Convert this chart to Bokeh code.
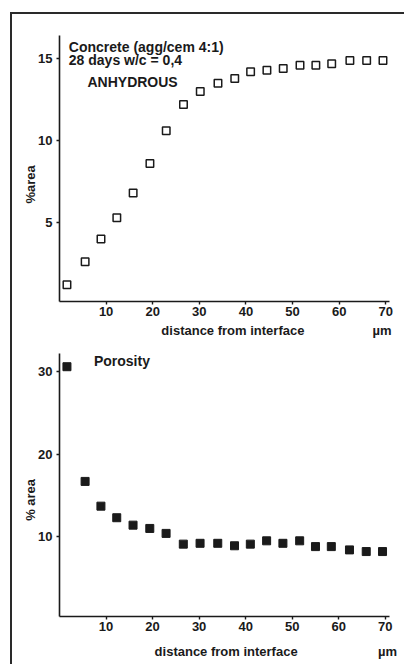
import math
from bokeh.plotting import figure
from bokeh.models import Range1d, FixedTicker, Label, ColumnDataSource, LinearAxis
from bokeh.layouts import column
from bokeh.embed import file_html
from bokeh.resources import INLINE

# ---- data ----
distance_um = [1.6, 5.5, 8.9, 12.3, 15.8, 19.4, 22.9, 26.6, 30.2, 34.0,
               37.6, 41.0, 44.5, 48.0, 51.6, 55.0, 58.4, 62.3, 65.9, 69.4]
anhydrous_pct = [1.2, 2.6, 4.0, 5.3, 6.8, 8.6, 10.6, 12.2, 13.0, 13.5,
                 13.8, 14.2, 14.3, 14.4, 14.6, 14.6, 14.7, 14.9, 14.9, 14.9]
porosity_pct = [30.6, 16.7, 13.7, 12.3, 11.4, 11.0, 10.4, 9.1, 9.2, 9.2,
                8.9, 9.1, 9.5, 9.2, 9.5, 8.8, 8.8, 8.4, 8.2, 8.2]
x_ticks = [10, 20, 30, 40, 50, 60, 70]
top_y_ticks = [5, 10, 15]
bottom_y_ticks = [10, 20, 30]
x_title = "distance from interface"
x_unit = "\u00b5m"

FONT = "Liberation Sans"
INK = "#1a1a1a"


def style_axis(ax, size="13px"):
    ax.axis_line_color = INK
    ax.axis_line_width = 1.6
    ax.major_tick_line_color = INK
    ax.major_tick_line_width = 1.4
    ax.major_tick_in = 0
    ax.major_tick_out = 3
    ax.minor_tick_line_color = None
    ax.major_label_text_font = FONT
    ax.major_label_text_font_style = "bold"
    ax.major_label_text_font_size = size
    ax.major_label_text_color = INK


def title_axis(p, side, ticks, texts, standoff, orientation="horizontal"):
    ax = LinearAxis(ticker=FixedTicker(ticks=ticks),
                    major_label_overrides=dict(zip(ticks, texts)))
    style_axis(ax)
    ax.axis_line_color = None
    ax.major_tick_line_color = None
    ax.major_tick_out = 0
    ax.major_label_standoff = standoff
    ax.major_label_orientation = orientation
    p.add_layout(ax, side)


def base_fig(h, w, xr, yr, left, right, top, bottom, yticks):
    p = figure(width=w, height=h, x_range=xr, y_range=yr,
               output_backend="svg", toolbar_location=None,
               min_border_left=left, min_border_right=right,
               min_border_top=top, min_border_bottom=bottom)
    p.outline_line_color = None
    p.grid.visible = False
    p.background_fill_color = "white"
    p.border_fill_color = "white"
    style_axis(p.xaxis[0])
    style_axis(p.yaxis[0])
    p.xaxis.ticker = FixedTicker(ticks=x_ticks)
    p.yaxis.ticker = FixedTicker(ticks=yticks)
    p.xaxis.major_label_standoff = 2
    p.yaxis.major_label_standoff = 4
    p.yaxis.major_label_orientation = "horizontal"
    return p


def lab(p, text, x, y, size="14px", baseline="middle"):
    p.add_layout(Label(x=x, y=y, text=text, text_font=FONT,
                       text_font_style="bold", text_font_size=size,
                       text_color=INK, text_align="left",
                       text_baseline=baseline))


src = ColumnDataSource(dict(x=distance_um, a=anhydrous_pct, p=porosity_pct))

# ---- top panel: anhydrous ----
p1 = base_fig(326, 392, Range1d(0, 70.8), Range1d(0.18, 16.42),
              46, 15, 21, 38, top_y_ticks)
p1.scatter("x", "a", source=src, marker="square", size=7.5,
           fill_color="white", line_color=INK, line_width=1.5)
lab(p1, "Concrete (agg/cem 4:1)", 2.0, 15.7, baseline="alphabetic")
lab(p1, "28 days w/c = 0,4", 2.0, 14.9, baseline="alphabetic")
lab(p1, "ANHYDROUS", 6.0, 13.6)
title_axis(p1, "below", [37.2, 69.2], [x_title, x_unit], 4)
title_axis(p1, "left", [8.5], ["%area"], 5, math.pi / 2)

# ---- bottom panel: porosity ----
p2 = base_fig(324, 392, Range1d(0, 70.9), Range1d(0.33, 32.2),
              47, 11, 13, 48, bottom_y_ticks)
p2.scatter("x", "p", source=src, marker="square", size=8,
           fill_color=INK, line_color=INK, line_width=1)
lab(p2, "Porosity", 7.4, 31.3)
title_axis(p2, "below", [35.8, 70.5], [x_title, x_unit], 10)
title_axis(p2, "left", [17.0], ["% area"], 5, math.pi / 2)

layout = column(p1, p2, spacing=0, margin=(12, 0, 0, 10),
                styles={"border-left": "2px solid #2a2a2a",
                        "border-top": "2px solid #2a2a2a"})

open("out.html", "w").write(file_html(layout, INLINE))
